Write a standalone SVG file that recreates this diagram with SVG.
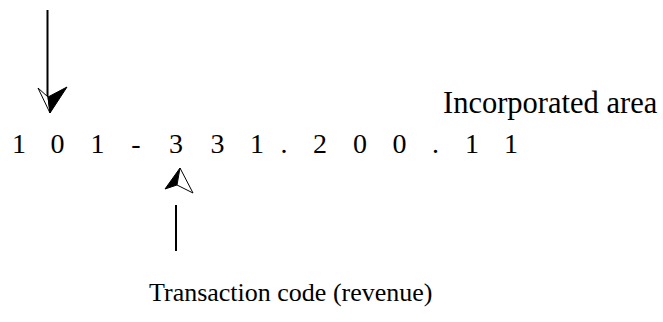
<svg xmlns="http://www.w3.org/2000/svg" width="663" height="322" viewBox="0 0 663 322">
<style>
text{fill:#000;font-family:'Liberation Serif','Times New Roman',Times,serif}
.ln{stroke:#000;stroke-width:2;fill:none}
.hw{fill:#fff;stroke:#000;stroke-width:1;stroke-linejoin:miter}
.hb{fill:#000;stroke:#000;stroke-width:1}
</style>
<rect width="663" height="322" fill="#fff"/>
<g id="code">
<text font-size="28" text-anchor="middle" y="153" x="19 38 57.5 77 97.5 117 136 156 176 197 217.5 237 257 270 284 302 320 340 360 380 399.5 418 435.5 454 472 492 511">1 0 1 - 3 3 1 . 2 0 0 . 1 1</text>
</g>
<g id="incorporated-area">
<text font-size="30.5" x="443" y="113">Incorporated area</text>
</g>
<g id="transaction-code">
<text font-size="26" x="149" y="301">Transaction code (revenue)</text>
</g>
<g id="connectors">
<line class="ln" x1="47.5" y1="10" x2="47.5" y2="106"/>
<polygon class="hw" points="38,88 48,97 50,113"/>
<polygon class="hb" points="48,97 67,87 50,113"/>
<line class="ln" x1="176" y1="205" x2="176" y2="251"/>
<polygon class="hb" points="180,168 165,189 177,185"/>
<polygon class="hw" points="180,168 177,185 193,193"/>
</g>
</svg>
